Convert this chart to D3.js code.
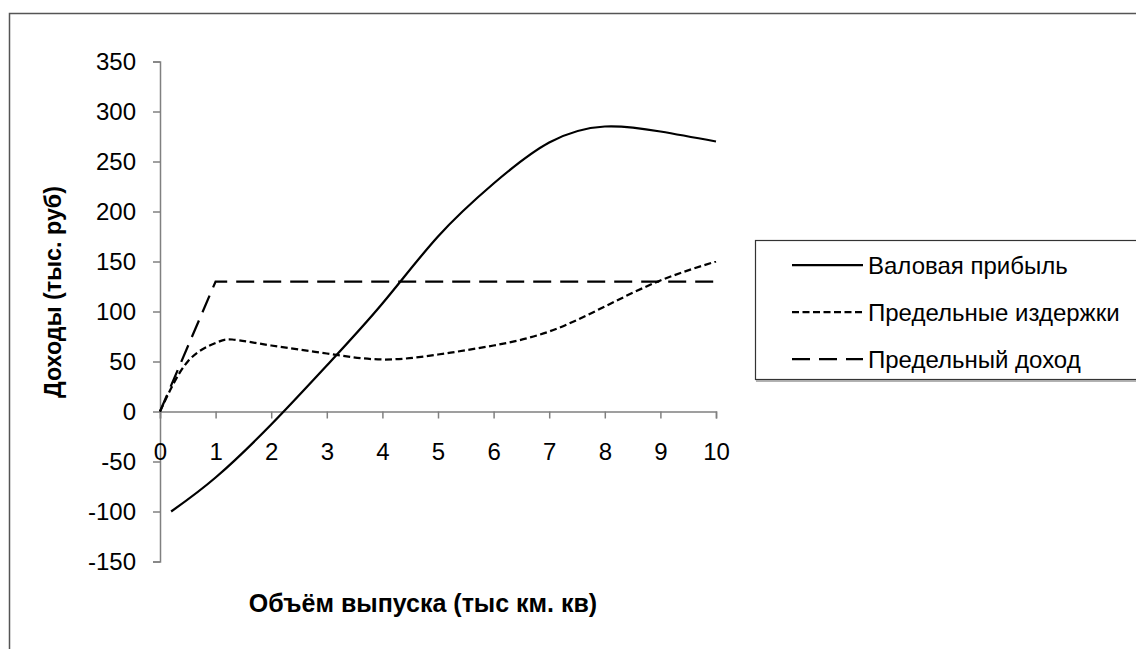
<!DOCTYPE html>
<html>
<head>
<meta charset="utf-8">
<script src="https://cdn.jsdelivr.net/npm/d3@7"></script>
<style>
  html, body { margin: 0; padding: 0; background: #fff; }
  svg { display: block; font-family: "Liberation Sans", Arial, sans-serif; }
</style>
</head>
<body>
<svg id="chart" width="1136" height="649"></svg>
<script>
// Output volume (x) and the three series
const profitQty = [0.2, 1, 2, 3, 4, 5, 6, 7, 8, 9, 10];
const profitValues = [-100, -66, -13, 46, 108, 175, 228, 269, 285, 280, 270];

const costQty = [0, 0.5, 1, 1.3, 2, 3, 4, 5, 6, 7, 8, 9, 10];
const costValues = [0, 50, 68.5, 72, 66, 58, 52, 57, 66, 80, 105, 131, 150];

const revenueQty = [0, 1, 2, 3, 4, 5, 6, 7, 8, 9, 10];
const revenueValues = [0, 130, 130, 130, 130, 130, 130, 130, 130, 130, 130];

const seriesNames = ["Валовая прибыль", "Предельные издержки", "Предельный доход"];
const xTicks = [0, 1, 2, 3, 4, 5, 6, 7, 8, 9, 10];
const yTicks = [-150, -100, -50, 0, 50, 100, 150, 200, 250, 300, 350];
const xTitle = "Объём выпуска (тыс км. кв)";
const yTitle = "Доходы (тыс. руб)";

const svg = d3.select("#chart");

// outer chart frame (runs off right and bottom edges)
svg.append("path")
  .attr("d", "M9.5,649 L9.5,13.5 L1136,13.5")
  .attr("fill", "none").attr("stroke", "#555").attr("stroke-width", 1.5);

const x = d3.scaleLinear().domain([0, 10]).range([160, 716]);
const y = d3.scaleLinear().domain([-150, 350]).range([561.5, 61.5]);

const axisColor = "#808080";
// plain hyphen for negatives
const fmt = d => String(d);

// y axis
const yAxis = svg.append("g").attr("transform", `translate(${x(0)},0)`)
  .call(d3.axisLeft(y).tickValues(yTicks).tickSize(7).tickPadding(17).tickFormat(fmt));
yAxis.select(".domain").attr("stroke", axisColor).attr("stroke-width", 1.5);
yAxis.selectAll(".tick line").attr("stroke", axisColor).attr("stroke-width", 1.5);
yAxis.selectAll(".tick text").attr("font-size", 24).attr("fill", "#000")
  .attr("font-family", "Liberation Sans, Arial, sans-serif");

// x axis through zero
const xAxis = svg.append("g").attr("transform", `translate(0,${y(0)})`)
  .call(d3.axisBottom(x).tickValues(xTicks).tickSize(7).tickPadding(24).tickFormat(fmt));
xAxis.select(".domain").attr("stroke", axisColor).attr("stroke-width", 1.5);
xAxis.selectAll(".tick line").attr("stroke", axisColor).attr("stroke-width", 1.5);
xAxis.selectAll(".tick text").attr("font-size", 24).attr("fill", "#000")
  .attr("font-family", "Liberation Sans, Arial, sans-serif");

// axis titles
svg.append("text")
  .attr("x", 423).attr("y", 612)
  .attr("text-anchor", "middle")
  .attr("font-size", 25).attr("font-weight", "bold")
  .text(xTitle);

svg.append("text")
  .attr("transform", `translate(61,292) rotate(-90)`)
  .attr("text-anchor", "middle")
  .attr("font-size", 23.3).attr("font-weight", "bold")
  .text(yTitle);

// series lines
const smooth = d3.line().x(d => x(d[0])).y(d => y(d[1])).curve(d3.curveNatural);
const straight = d3.line().x(d => x(d[0])).y(d => y(d[1]));

const styles = [
  { dash: null },
  { dash: "7,3.5" },
  { dash: "18,9" }
];

svg.append("path")
  .datum(revenueQty.map((q, i) => [q, revenueValues[i]]))
  .attr("d", straight)
  .attr("fill", "none").attr("stroke", "#000").attr("stroke-width", 2.25)
  .attr("stroke-dasharray", styles[2].dash);

svg.append("path")
  .datum(costQty.map((q, i) => [q, costValues[i]]))
  .attr("d", smooth)
  .attr("fill", "none").attr("stroke", "#000").attr("stroke-width", 2.25)
  .attr("stroke-dasharray", styles[1].dash);

svg.append("path")
  .datum(profitQty.map((q, i) => [q, profitValues[i]]))
  .attr("d", smooth)
  .attr("fill", "none").attr("stroke", "#000").attr("stroke-width", 2.25);

// legend
const legend = svg.append("g");
legend.append("rect")
  .attr("x", 755.5).attr("y", 240.5).attr("width", 400).attr("height", 139)
  .attr("fill", "#fff").attr("stroke", "#333").attr("stroke-width", 1.2);
legend.append("line")
  .attr("x1", 756).attr("x2", 1136).attr("y1", 381).attr("y2", 381)
  .attr("stroke", "#999").attr("stroke-width", 1.5);

const legendRows = [265, 312, 359];
seriesNames.forEach((name, i) => {
  legend.append("line")
    .attr("x1", 792).attr("x2", 863)
    .attr("y1", legendRows[i]).attr("y2", legendRows[i])
    .attr("stroke", "#000").attr("stroke-width", 2.25)
    .attr("stroke-dasharray", styles[i].dash);
  legend.append("text")
    .attr("x", 868).attr("y", legendRows[i] + 8.5)
    .attr("font-size", 24)
    .text(name);
});
</script>
</body>
</html>
